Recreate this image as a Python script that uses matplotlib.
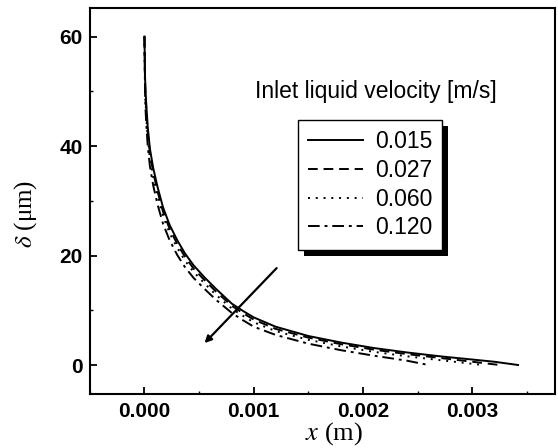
import numpy as np
import matplotlib
matplotlib.use('Agg')
import matplotlib.pyplot as plt
from matplotlib.patches import Rectangle

plt.rcParams['font.family'] = ['Liberation Sans', 'DejaVu Sans']
plt.rcParams['mathtext.fontset'] = 'stix'

# film thickness delta (um) vs position x (m)
labels = ['0.015', '0.027', '0.060', '0.120']

x_015 = [0, 0.000005, 0.00001, 0.00002, 0.00003, 0.00005, 0.00008, 0.00012, 0.00017, 0.00023,
         0.0003, 0.00037, 0.00045, 0.00055, 0.00065, 0.0008, 0.0009, 0.001, 0.0012, 0.0015,
         0.0018, 0.0021, 0.0024, 0.0027, 0.003, 0.0032, 0.00342]
d_015 = [60, 53, 50, 46.5, 43.5, 39.5, 36, 32.5, 28.8, 25.6,
         22.8, 20.4, 18.2, 16.0, 14.0, 11.2, 9.9, 8.7, 7.0, 5.3,
         4.1, 3.1, 2.3, 1.6, 1.0, 0.6, 0.0]

x_027 = [0, 0.000005, 0.00001, 0.00002, 0.00003, 0.00005, 0.00008, 0.00012, 0.00017, 0.00023,
         0.0003, 0.00037, 0.00045, 0.00055, 0.00065, 0.0008, 0.0009, 0.001, 0.0012, 0.0015,
         0.0018, 0.0021, 0.0024, 0.0027, 0.003, 0.00325]
d_027 = [60, 52, 49, 45.5, 42.5, 38.7, 35.2, 31.7, 28.0, 24.9,
         22.1, 19.8, 17.6, 15.5, 13.5, 10.8, 9.5, 8.3, 6.6, 5.0,
         3.8, 2.8, 2.0, 1.3, 0.6, 0.0]

x_060 = [0, 0.000005, 0.00001, 0.00002, 0.00003, 0.00005, 0.00008, 0.00012, 0.00017, 0.00023,
         0.0003, 0.00037, 0.00045, 0.00055, 0.00065, 0.0008, 0.0009, 0.001, 0.0012, 0.0015,
         0.0018, 0.0021, 0.0024, 0.0027, 0.0031]
d_060 = [60, 51, 48, 44.5, 41.5, 37.8, 34.3, 30.8, 27.2, 24.1,
         21.4, 19.1, 17.0, 14.9, 12.9, 10.3, 9.0, 7.8, 6.2, 4.6,
         3.4, 2.4, 1.6, 0.9, 0.0]

x_120 = [0, 0.000005, 0.00001, 0.00002, 0.00003, 0.00005, 0.00008, 0.00012, 0.00017, 0.00023,
         0.0003, 0.00037, 0.00045, 0.00055, 0.00065, 0.0008, 0.0009, 0.001, 0.0012, 0.0015,
         0.0018, 0.0021, 0.0024, 0.0026]
d_120 = [60, 50, 46.5, 43, 40, 36.3, 32.8, 29.3, 25.8, 22.8,
         20.1, 17.9, 15.9, 13.9, 12.0, 9.5, 8.2, 7.0, 5.5, 3.9,
         2.7, 1.7, 0.8, 0.0]

xs = [x_015, x_027, x_060, x_120]
ds = [d_015, d_027, d_060, d_120]
styles = ['-', (0, (5, 3)), (0, (1, 3)), (0, (6, 2.5, 1.5, 2.5))]

fig = plt.figure(figsize=(5.58, 4.48), dpi=100)
ax = fig.add_axes([0.161, 0.1205, 0.834, 0.8615])

for xx, dd, ls, lab in zip(xs, ds, styles, labels):
    ax.plot(xx, dd, color='black', ls=ls, lw=1.4, label=lab)

# arrow showing increasing velocity
ax.annotate('', xy=(0.00055, 4.0), xytext=(0.00121, 17.7),
            arrowprops=dict(arrowstyle='-|>', color='black', lw=1.6,
                            mutation_scale=10, shrinkA=0, shrinkB=0))

ax.set_xlim(-0.0005, 0.00376)
ax.set_ylim(-5.3, 65.2)
ax.set_xticks([0.000, 0.001, 0.002, 0.003])
ax.set_xticklabels(['0.000', '0.001', '0.002', '0.003'])
ax.set_xticks(np.arange(-0.0005, 0.0036, 0.0005), minor=True)
ax.set_yticks([0, 20, 40, 60])
ax.set_yticks([10, 30, 50], minor=True)
ax.tick_params(which='major', direction='in', length=5, width=1.3, labelsize=15, pad=5)
ax.tick_params(axis='x', which='major', pad=6)
ax.tick_params(which='minor', direction='in', length=2.5, width=1.0)
for lab in ax.get_xticklabels() + ax.get_yticklabels():
    lab.set_fontweight('bold')
for sp in ax.spines.values():
    sp.set_linewidth(1.5)

ax.set_xlabel(r'$x$ (m)', fontsize=19, family='Liberation Serif')
ax.set_ylabel(r'$\delta$ (μm)', fontsize=18, family='Liberation Serif')
ax.xaxis.set_label_coords(0.525, -0.067)
ax.yaxis.set_label_coords(-0.11, 0.466)

ax.text(0.355, 0.785, 'Inlet liquid velocity [m/s]', transform=ax.transAxes,
        fontsize=16.5, va='center', ha='left')

leg = ax.legend(loc='upper left', bbox_to_anchor=(0.447, 0.71), borderaxespad=0,
                fancybox=False, edgecolor='black', framealpha=1, fontsize=16.5,
                handlelength=2.4, labelspacing=0.25, borderpad=0.45, handletextpad=0.5)
leg.get_frame().set_linewidth(1.0)

# drop shadow under the legend box
fig.canvas.draw()
bb = leg.get_window_extent().transformed(ax.transAxes.inverted())
off_x = 6 / (ax.bbox.width)
off_y = 6 / (ax.bbox.height)
ax.add_patch(Rectangle((bb.x0 + off_x, bb.y0 - off_y), bb.width, bb.height,
                       transform=ax.transAxes, facecolor='black', edgecolor='none',
                       zorder=4.9))

fig.savefig('out.png', dpi=100)
